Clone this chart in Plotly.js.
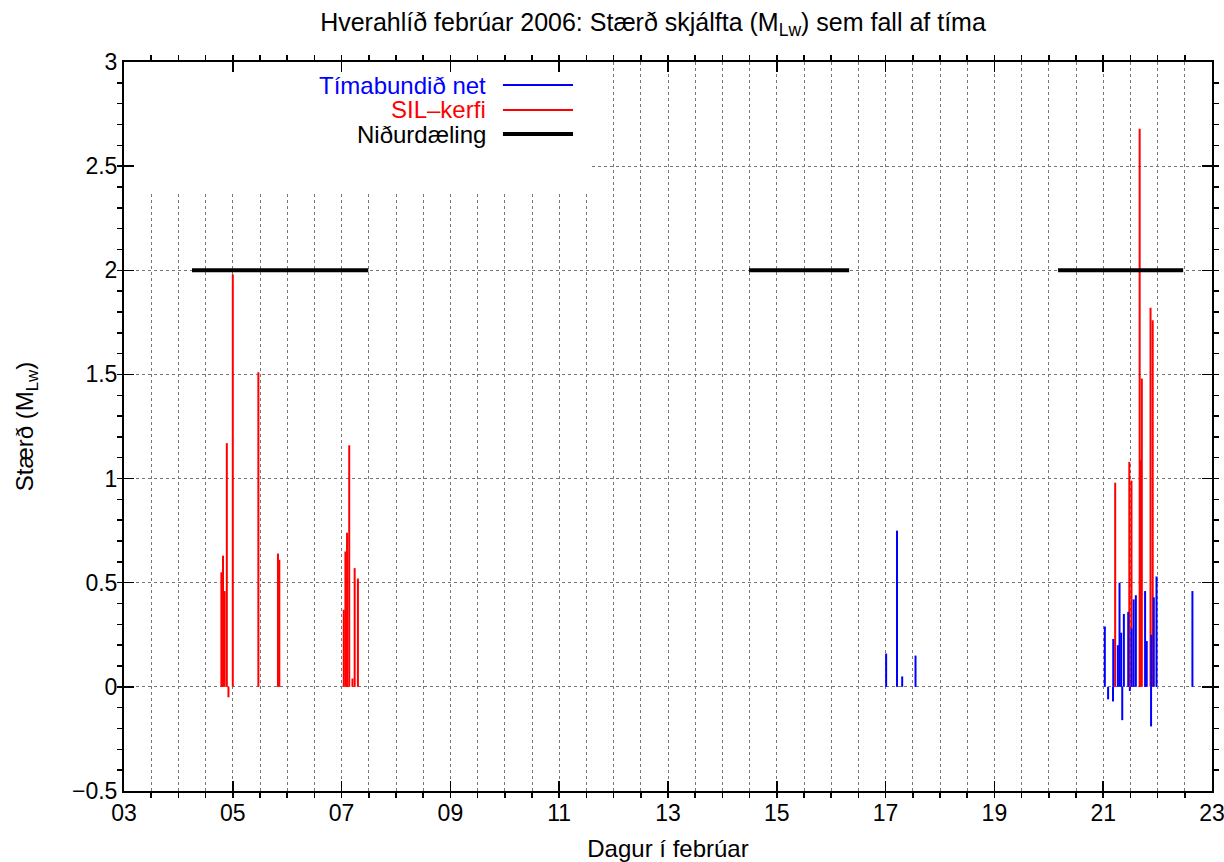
<!DOCTYPE html>
<html>
<head>
<meta charset="utf-8">
<script src="https://cdn.plot.ly/plotly-3.0.1.min.js"></script>
<style>html,body{margin:0;padding:0;background:#fff;}#chart{width:1224px;height:862px;}</style>
</head>
<body>
<div id="chart"></div>
<script>
// SIL-kerfi (red) events: day of February, magnitude
const silTime = [4.79, 4.82, 4.85, 4.89, 4.92, 5.00, 5.47, 5.83, 5.855, 7.04, 7.07, 7.10, 7.14, 7.20, 7.24, 7.30,
                 21.22, 21.48, 21.52, 21.67, 21.69, 21.71, 21.87, 21.91];
const silMag  = [0.55, 0.63, 0.46, 1.17, -0.05, 1.98, 1.51, 0.64, 0.61, 0.37, 0.65, 0.74, 1.16, 0.04, 0.57, 0.52,
                 0.98, 1.08, 0.99, 2.68, 1.09, 1.48, 1.82, 1.76];
// Tímabundið net (blue) events
const netTime = [17.01, 17.21, 17.305, 17.55, 21.03, 21.09, 21.18, 21.185, 21.27, 21.30, 21.33, 21.35, 21.38,
                 21.46, 21.49, 21.52, 21.56, 21.60, 21.77, 21.80, 21.88, 21.885, 21.93, 21.98, 22.64];
const netMag  = [0.16, 0.75, 0.05, 0.15, 0.29, -0.06, -0.07, 0.23, 0.20, 0.50, 0.26, -0.16, 0.35,
                 0.36, -0.02, 0.28, 0.42, 0.44, 0.46, 0.22, -0.19, 0.25, 0.43, 0.53, 0.46];
// Niðurdæling (injection) periods
const injStart = [4.25, 14.49, 20.17];
const injEnd   = [7.49, 16.33, 22.47];
const injLevel = 2;

const seriesNames = ['Tímabundið net', 'SIL\u2013kerfi', 'Niðurdæling'];
const seriesColors = ['#0000ff', '#ff0000', '#000000'];

function impulses(t, m) {
  const x = [], y = [];
  for (let i = 0; i < t.length; i++) { x.push(t[i], t[i], null); y.push(0, m[i], null); }
  return {x, y};
}
function segments(s, e, lvl) {
  const x = [], y = [];
  for (let i = 0; i < s.length; i++) { x.push(s[i], e[i], null); y.push(lvl, lvl, null); }
  return {x, y};
}

const red = impulses(silTime, silMag);
const blue = impulses(netTime, netMag);
const blk = segments(injStart, injEnd, injLevel);

const traces = [
  {x: red.x, y: red.y, mode: 'lines', line: {color: seriesColors[1], width: 2}, name: seriesNames[1], hoverinfo: 'skip'},
  {x: blue.x, y: blue.y, mode: 'lines', line: {color: seriesColors[0], width: 2}, name: seriesNames[0], hoverinfo: 'skip'},
  {x: blk.x, y: blk.y, mode: 'lines', line: {color: seriesColors[2], width: 4}, name: seriesNames[2], hoverinfo: 'skip'}
];

const font = 'Liberation Sans, Arial, Helvetica, sans-serif';
const FS = 23;
const legY = [0.9684, 0.9342, 0.9012];
const legWidths = [2, 2, 4];
const annotations = [];
const shapes = [
  {type: 'rect', xref: 'x', yref: 'y', x0: 3, x1: 11.55, y0: 2.367, y1: 3, fillcolor: '#ffffff', line: {width: 0}, layer: 'between'}
];
for (let i = 0; i < 3; i++) {
  annotations.push({xref: 'paper', yref: 'paper', x: 0.3346, y: legY[i], xanchor: 'right', yanchor: 'middle',
    text: seriesNames[i], showarrow: false, font: {family: font, size: 24, color: seriesColors[i]}});
  shapes.push({type: 'line', xref: 'paper', yref: 'paper', x0: 0.3483, x1: 0.4127, y0: legY[i], y1: legY[i],
    line: {color: seriesColors[i], width: legWidths[i]}});
}

const layout = {
  width: 1224, height: 862,
  margin: {l: 124, r: 12, t: 62, b: 71},
  paper_bgcolor: '#fff', plot_bgcolor: '#fff',
  showlegend: false,
  font: {family: font, size: FS, color: '#000'},
  title: {text: 'Hverahlíð febrúar 2006: Stærð skjálfta (M<sub>Lw</sub>) sem fall af tíma',
          font: {family: font, size: 25, color: '#000'}, x: 653 / 1224, xanchor: 'center', y: 0.974, yanchor: 'middle'},
  xaxis: {
    range: [3, 23], tick0: 3, dtick: 2, tickformat: '02d',
    ticks: 'inside', ticklen: 10, tickwidth: 1.5, tickcolor: '#000',
    showline: true, linewidth: 2, linecolor: '#000', mirror: 'ticks',
    showgrid: true, gridcolor: '#777', griddash: 'dot', gridwidth: 1,
    zeroline: false, ticklabeloverflow: 'allow',
    minor: {dtick: 0.5, ticklen: 5, tickwidth: 1.5, tickcolor: '#000', showgrid: true, gridcolor: '#777', griddash: 'dot', gridwidth: 1},
    tickfont: {family: font, size: FS},
    title: {text: 'Dagur í febrúar', font: {family: font, size: 24}, standoff: 17}
  },
  yaxis: {
    range: [-0.5, 3], tick0: 0, dtick: 0.5,
    ticks: 'inside', ticklen: 10, tickwidth: 1.5, tickcolor: '#000',
    showline: true, linewidth: 2, linecolor: '#000', mirror: 'ticks',
    showgrid: true, gridcolor: '#777', griddash: 'dot', gridwidth: 1,
    zeroline: false,
    minor: {dtick: 0.1, ticklen: 5, tickwidth: 1.5, tickcolor: '#000', showgrid: false},
    tickfont: {family: font, size: FS},
    title: {text: 'Stærð (M<sub>Lw</sub>)', font: {family: font, size: 24}, standoff: 32}
  },
  annotations: annotations,
  shapes: shapes
};

Plotly.newPlot('chart', traces, layout, {displayModeBar: false, staticPlot: true});
</script>
</body>
</html>
